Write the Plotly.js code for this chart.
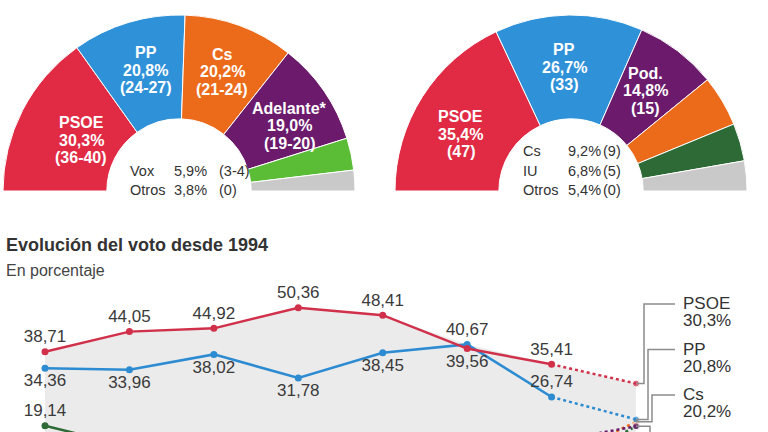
<!DOCTYPE html>
<html><head><meta charset="utf-8">
<script src="https://cdn.plot.ly/plotly-3.0.1.min.js"></script>
<style>html,body{margin:0;padding:0;background:#fff;}#chart{width:768px;height:432px;}</style>
</head><body><div id="chart"></div>
<script>
// ---------- DATA ----------
const parties2018 = ['PSOE', 'PP', 'Cs', 'Adelante*', 'Vox', 'Otros'];
const votes2018 = [30.3, 20.8, 20.2, 19.0, 5.9, 3.8];
const seats2018 = ['36-40', '24-27', '21-24', '19-20', '3-4', '0'];

const parties2015 = ['PSOE', 'PP', 'Pod.', 'Cs', 'IU', 'Otros'];
const votes2015 = [35.4, 26.7, 14.8, 9.2, 6.8, 5.4];
const seats2015 = ['47', '33', '15', '9', '5', '0'];

const years = ['1994', '1996', '2000', '2004', '2008', '2012', '2015', '2018'];
const psoe = [38.71, 44.05, 44.92, 50.36, 48.41, 39.56, 35.41];
const pp = [34.36, 33.96, 38.02, 31.78, 38.45, 40.67, 26.74];
const iu = [19.14, 13.97, 8.11, 7.51, 7.06, 11.34, 6.89];
const podemos = [null, null, null, null, null, null, 14.86];
const cs = [null, null, null, null, null, null, 9.28];

const psoeLabelPos = ['top center', 'top center', 'top center', 'top center', 'top center', 'bottom center', 'top center'];
const ppLabelPos = ['bottom center', 'bottom center', 'bottom center', 'bottom center', 'bottom center', 'top center', 'top center'];

// ---------- STYLE / LAYOUT CONSTANTS ----------
const W = 768, H = 432;
const C = {red: '#e12a44', blue: '#2f92d9', orange: '#ec6b1b', purple: '#6b1a6c', green: '#5bbd36', dgreen: '#2e6a36', grey: '#c9c9c9'};
const lineRed = '#d1304a', lineBlue = '#2c8bd1';
const FONT = '"Liberation Sans", Arial, Helvetica, sans-serif';
const txt = '#333333';
const fmt = (v, d) => v.toFixed(d).replace('.', ',');
const sum = a => a.reduce((s, v) => s + v, 0);

const colors2018 = [C.red, C.blue, C.orange, C.purple, C.green, C.grey];
const colors2015 = [C.red, C.blue, C.purple, C.orange, C.dgreen, C.grey];

const R = 176, HOLE = 0.41, LABEL_R = 126;
const left = {cx: 179, cy: 191, nudge: [[14, 7], [3, 0], [0, -1], [7, 6]]};
const right = {cx: 571, cy: 191, nudge: [[-4, 11], [-5, 2], [-2, 0]]};

function hemicycle(values, colors, c) {
  const total = sum(values);
  return {
    type: 'pie', values: values.concat([total]), sort: false, direction: 'clockwise', rotation: -90,
    hole: HOLE, textinfo: 'none', hoverinfo: 'skip', showlegend: false,
    marker: {colors: colors.concat(['rgba(0,0,0,0)']),
             line: {color: colors.map(() => '#ffffff').concat(['rgba(0,0,0,0)']), width: 1}},
    domain: {x: [(c.cx - R) / W, (c.cx + R) / W], y: [1 - (c.cy + R) / H, 1 - (c.cy - R) / H]}
  };
}

const annotations = [];
function pAnn(xpx, ypx, text, opts) {
  annotations.push(Object.assign({xref: 'paper', yref: 'paper', x: xpx / W, y: 1 - ypx / H, text: text,
    showarrow: false, xanchor: 'center', yanchor: 'middle', font: {family: FONT, size: 14.5, color: txt}}, opts || {}));
}

function sliceLabels(parties, votes, seats, nLabeled, c) {
  const total = sum(votes);
  let acc = 0;
  votes.forEach((v, i) => {
    const mid = 180 - (acc + v / 2) / total * 180;
    acc += v;
    if (i >= nLabeled) return;
    const x = c.cx + LABEL_R * Math.cos(mid * Math.PI / 180) + c.nudge[i][0];
    const y = c.cy - LABEL_R * Math.sin(mid * Math.PI / 180) + c.nudge[i][1];
    [parties[i], fmt(v, 1) + '%', '(' + seats[i] + ')'].forEach((t, k) => {
      pAnn(x, y + (k - 1) * 17.5, '<b>' + t + '</b>', {font: {family: FONT, size: 16, color: '#ffffff'}});
    });
  });
}

function tableRows(parties, votes, seats, from, cols, bottomY) {
  for (let i = from; i < parties.length; i++) {
    const y = bottomY - (parties.length - 1 - i) * 19.5;
    pAnn(cols[0], y, parties[i], {xanchor: 'left'});
    pAnn(cols[1], y, fmt(votes[i], 1) + '%', {xanchor: 'left'});
    pAnn(cols[2], y, '(' + seats[i] + ')', {xanchor: 'left'});
  }
}

sliceLabels(parties2018, votes2018, seats2018, 4, left);
sliceLabels(parties2015, votes2015, seats2015, 3, right);
tableRows(parties2018, votes2018, seats2018, 4, [128, 172, 217], 190);
tableRows(parties2015, votes2015, seats2015, 3, [521, 566, 601], 190);

pAnn(4, 245, '<b>Evolución del voto desde 1994</b>', {xanchor: 'left', font: {family: FONT, size: 18, color: txt}});
pAnn(4, 270, 'En porcentaje', {xanchor: 'left', font: {family: FONT, size: 16, color: '#444'}});

// ---------- LINE CHART ----------
const X0PX = 45, XSTEP = 84.43, Y0PX = 498, YSCALE = 3.777, YDOM = 0.34;
const xi = years.map((_, i) => i);
const last = years.length - 1, prev = last - 1;
const xHist = xi.slice(0, last);

// forecast values for 2018 come from the 2018 survey
const fPSOE = votes2018[0], fPP = votes2018[1], fCs = votes2018[2], fAdel = votes2018[3];

// grey envelope
const allHist = [psoe, pp, iu, podemos, cs];
const envelope = xi.map(i => {
  if (i < last) return Math.max(...allHist.map(s => s[i] == null ? 0 : s[i]));
  return Math.max(fPSOE, fPP, fCs, fAdel);
});

const traces = [hemicycle(votes2018, colors2018, left), hemicycle(votes2015, colors2015, right)];
traces.push({type: 'scatter', x: xi, y: envelope, mode: 'none', fill: 'tozeroy', fillcolor: '#ebebeb',
  hoverinfo: 'skip', showlegend: false});

function dotted(from, to, color) {
  return {type: 'scatter', x: [prev, last], y: [from, to], mode: 'lines+markers',
    line: {color: color, width: 2.5, dash: 'dot'}, marker: {size: [0, 7], color: color},
    hoverinfo: 'skip', showlegend: false, cliponaxis: false};
}
traces.push(dotted(iu[prev], fAdel, C.dgreen));
traces.push(dotted(cs[prev], fCs, C.orange));
traces.push(dotted(podemos[prev], fAdel, C.purple));
traces.push(dotted(pp[prev], fPP, lineBlue));
traces.push(dotted(psoe[prev], fPSOE, lineRed));

function solid(ys, color, pos) {
  return {type: 'scatter', x: xHist, y: ys, mode: 'lines+markers+text', connectgaps: false,
    line: {color: color, width: 2.5}, marker: {size: 7, color: color},
    text: ys.map(v => v == null ? '' : fmt(v, 2)), textposition: pos,
    textfont: {family: FONT, size: 17, color: '#3a3a3a'},
    hoverinfo: 'skip', showlegend: false, cliponaxis: false};
}
traces.push(solid(iu, C.dgreen, 'top center'));
traces.push(solid(cs, C.orange, 'bottom center'));
traces.push(solid(podemos, C.purple, 'top left'));
traces.push(solid(pp, lineBlue, ppLabelPos));
traces.push(solid(psoe, lineRed, psoeLabelPos));

// leader lines + right labels
const fNames = parties2018.slice(0, 5), fVals = votes2018.slice(0, 5);
const legOffPx = [8, 12, 16, 14, 18];
const labTopPx = 304, labStepPx = 45.5;
const toY = py => (Y0PX - py) / YSCALE;
fNames.forEach((n, k) => {
  const xv = last + legOffPx[k] / XSTEP;
  const ly = toY(labTopPx + k * labStepPx);
  traces.push({type: 'scatter', x: [last, xv, xv, last + 39 / XSTEP], y: [fVals[k], fVals[k], ly, ly],
    mode: 'lines', line: {color: '#8c8c8c', width: 1.5}, hoverinfo: 'skip', showlegend: false, cliponaxis: false});
  annotations.push({xref: 'x', yref: 'y', x: last + 45 / XSTEP, y: ly, text: n, showarrow: false,
    xanchor: 'left', yanchor: 'middle', font: {family: FONT, size: 17, color: txt}});
  annotations.push({xref: 'x', yref: 'y', x: last + 45 / XSTEP, y: ly, yshift: -17, text: fmt(fVals[k], 1) + '%', showarrow: false,
    xanchor: 'left', yanchor: 'middle', font: {family: FONT, size: 17, color: txt}});
});

const layout = {
  width: W, height: H, margin: {l: 0, r: 0, t: 0, b: 0}, paper_bgcolor: '#ffffff', plot_bgcolor: 'rgba(0,0,0,0)',
  showlegend: false, font: {family: FONT},
  xaxis: {domain: [0, 1], range: [-X0PX / XSTEP, (W - X0PX) / XSTEP], visible: false, fixedrange: true},
  yaxis: {domain: [0, YDOM], range: [(Y0PX - H) / YSCALE, (Y0PX - (H - YDOM * H)) / YSCALE], visible: false, fixedrange: true},
  annotations: annotations
};
Plotly.newPlot('chart', traces, layout, {staticPlot: true, displayModeBar: false});
</script></body></html>
